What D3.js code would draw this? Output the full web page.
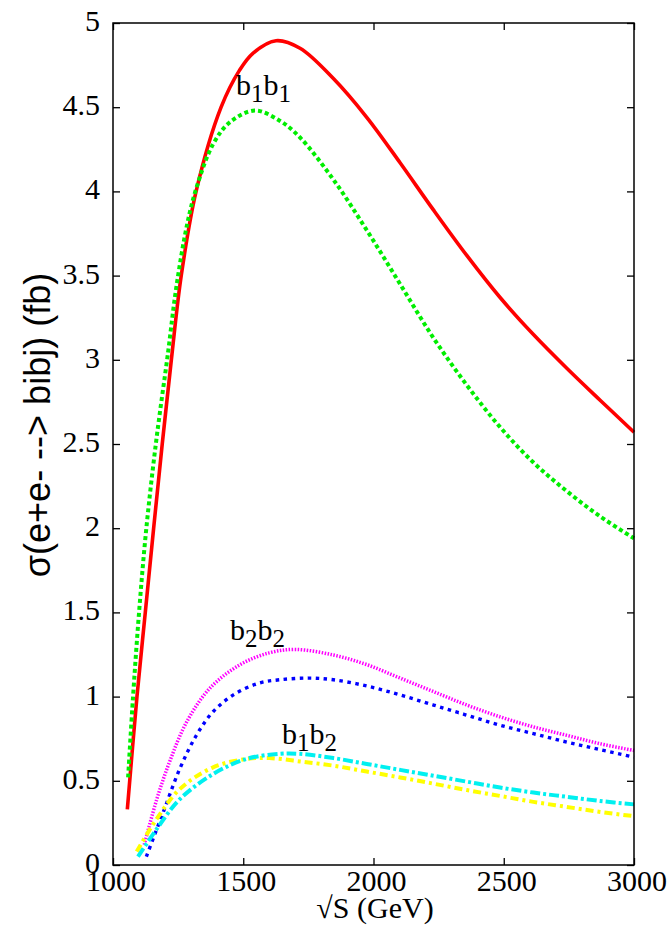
<!DOCTYPE html>
<html>
<head>
<meta charset="utf-8">
<script src="https://cdn.jsdelivr.net/npm/d3@7"></script>
<style>
html,body{margin:0;padding:0;background:#fff;}
svg{display:block;}
.serif{font-family:"Liberation Serif","Times New Roman",Times,serif;}
.sans{font-family:"Liberation Sans",Arial,Helvetica,sans-serif;}
</style>
</head>
<body>
<svg id="chart" width="671" height="925"></svg>
<script>
// ---- data ----
const redX = [1055, 1092, 1124, 1156, 1189, 1224, 1262, 1319, 1415, 1486, 1537, 1626, 1718, 1846, 1974, 2102, 2230, 2358, 2486, 2614, 2742, 2870, 3000];
const redY = [0.33, 1.0, 1.5, 2.0, 2.5, 3.0, 3.5, 4.0, 4.5, 4.72, 4.82, 4.895, 4.85, 4.67, 4.44, 4.17, 3.89, 3.62, 3.37, 3.15, 2.95, 2.76, 2.57];

const greenX = [1058, 1077, 1100, 1128, 1166, 1211, 1243, 1284, 1320, 1384, 1448, 1544, 1640, 1718, 1846, 1974, 2102, 2230, 2358, 2486, 2614, 2742, 2870, 3000];
const greenY = [0.52, 1.0, 1.5, 2.0, 2.52, 3.04, 3.43, 3.80, 4.02, 4.28, 4.41, 4.48, 4.42, 4.32, 4.07, 3.77, 3.45, 3.13, 2.85, 2.60, 2.39, 2.22, 2.07, 1.94];

const magentaX = [1120, 1168, 1219, 1283, 1372, 1488, 1600, 1700, 1846, 1974, 2102, 2230, 2358, 2486, 2614, 2742, 2870, 3000];
const magentaY = [0.12, 0.39, 0.62, 0.85, 1.05, 1.19, 1.26, 1.28, 1.247, 1.19, 1.11, 1.03, 0.95, 0.88, 0.82, 0.77, 0.72, 0.68];

const blueX = [1128, 1192, 1256, 1320, 1384, 1462, 1560, 1640, 1750, 1846, 1974, 2102, 2230, 2358, 2486, 2614, 2742, 2870, 3000];
const blueY = [0.05, 0.31, 0.57, 0.77, 0.91, 1.01, 1.08, 1.10, 1.11, 1.10, 1.063, 1.01, 0.95, 0.89, 0.83, 0.78, 0.73, 0.685, 0.64];

const cyanX = [1096, 1166, 1256, 1384, 1512, 1640, 1718, 1846, 1974, 2102, 2230, 2358, 2486, 2614, 2742, 2870, 3000];
const cyanY = [0.05, 0.21, 0.39, 0.54, 0.63, 0.66, 0.66, 0.635, 0.60, 0.565, 0.53, 0.495, 0.46, 0.43, 0.405, 0.38, 0.36];

const yellowX = [1091, 1166, 1256, 1384, 1512, 1600, 1718, 1846, 1974, 2102, 2230, 2358, 2486, 2614, 2742, 2870, 3000];
const yellowY = [0.08, 0.27, 0.45, 0.58, 0.63, 0.635, 0.615, 0.59, 0.555, 0.52, 0.483, 0.445, 0.41, 0.375, 0.345, 0.315, 0.29];

const xTicks = [1000, 1500, 2000, 2500, 3000];
const yTicks = [0, 0.5, 1, 1.5, 2, 2.5, 3, 3.5, 4, 4.5, 5];
const yTickLabels = ["0", "0.5", "1", "1.5", "2", "2.5", "3", "3.5", "4", "4.5", "5"];

const labels = [
  {base: "b", s1: "1", b2: "b", s2: "1", x: 1472, y: 4.57},
  {base: "b", s1: "2", b2: "b", s2: "2", x: 1449, y: 1.336},
  {base: "b", s1: "1", b2: "b", s2: "2", x: 1649, y: 0.72}
];

const xTitle = "\u221AS (GeV)";
const yTitle = "\u03C3(e+e- --> bibj) (fb)";

// ---- layout ----
const svg = d3.select("#chart");
const L = 113, R = 634, T = 23, B = 865;
const x = d3.scaleLinear().domain([1000, 3000]).range([L, R]);
const y = d3.scaleLinear().domain([0, 5]).range([B, T]);

// axes (inward ticks, all four sides)
const tickLen = 7;
const axB = d3.axisBottom(x).tickValues(xTicks).tickSize(-tickLen).tickFormat("");
const axT = d3.axisTop(x).tickValues(xTicks).tickSize(-tickLen).tickFormat("");
const axL = d3.axisLeft(y).tickValues(yTicks).tickSize(-tickLen).tickFormat("");
const axR = d3.axisRight(y).tickValues(yTicks).tickSize(-tickLen).tickFormat("");

function styleAxis(g){
  g.select(".domain").remove();
  g.selectAll(".tick line").attr("stroke", "#000").attr("stroke-width", 1.3);
}
svg.append("g").attr("transform", `translate(0,${B})`).call(axB).call(styleAxis);
svg.append("g").attr("transform", `translate(0,${T})`).call(axT).call(styleAxis);
svg.append("g").attr("transform", `translate(${L},0)`).call(axL).call(styleAxis);
svg.append("g").attr("transform", `translate(${R},0)`).call(axR).call(styleAxis);

// tick labels
svg.append("g").selectAll("text").data(xTicks).join("text")
  .attr("class", "serif")
  .attr("x", d => x(d) + 3).attr("y", 891)
  .attr("text-anchor", "middle")
  .attr("font-size", 30).attr("fill", "#000")
  .text(d => d);
svg.append("g").selectAll("text").data(yTicks).join("text")
  .attr("class", "serif")
  .attr("x", 100).attr("y", d => y(d) + 8)
  .attr("text-anchor", "end")
  .attr("font-size", 30).attr("fill", "#000")
  .text((d, i) => yTickLabels[i]);

// series
const line = d3.line().x(d => x(d[0])).y(d => y(d[1])).curve(d3.curveCatmullRom.alpha(0.5));
const zip = (a, b) => a.map((v, i) => [v, b[i]]);
const series = [
  {xs: redX, ys: redY, color: "#ff0000", w: 3.6, dash: null},
  {xs: greenX, ys: greenY, color: "#00ee00", w: 4, dash: "4,3"},
  {xs: magentaX, ys: magentaY, color: "#ff00ff", w: 3.5, dash: "1.5,1.5"},
  {xs: blueX, ys: blueY, color: "#0000ff", w: 3.4, dash: "3.5,4.5"},
  {xs: yellowX, ys: yellowY, color: "#ffff00", w: 4, dash: "8,4,3,4"},
  {xs: cyanX, ys: cyanY, color: "#00f0f0", w: 4, dash: "10,3,3,3"}
];
const plot = svg.append("g");
series.forEach(s => {
  plot.append("path")
    .attr("d", line(zip(s.xs, s.ys)))
    .attr("fill", "none")
    .attr("stroke", s.color)
    .attr("stroke-width", s.w)
    .attr("stroke-dasharray", s.dash)
    .attr("stroke-linejoin", "round");
});

// frame
svg.append("rect").attr("x", L).attr("y", T).attr("width", R - L).attr("height", B - T)
  .attr("fill", "none").attr("stroke", "#000").attr("stroke-width", 1.5);

// curve labels
labels.forEach(l => {
  const t = svg.append("text").attr("class", "serif").attr("x", x(l.x)).attr("y", y(l.y))
    .attr("font-size", 30).attr("fill", "#000");
  t.append("tspan").text(l.base);
  t.append("tspan").attr("font-size", 25).attr("dy", 7).text(l.s1);
  t.append("tspan").attr("dy", -7).text(l.b2);
  t.append("tspan").attr("font-size", 25).attr("dy", 7).text(l.s2);
});

// axis titles
svg.append("text").attr("class", "serif").attr("x", 375).attr("y", 918).attr("text-anchor", "middle")
  .attr("font-size", 30).attr("fill", "#000").text(xTitle);
svg.append("text").attr("class", "sans").attr("transform", "translate(50,425) rotate(-90)")
  .attr("text-anchor", "middle")
  .attr("font-size", 36).attr("fill", "#000").text(yTitle);
</script>
</body>
</html>
